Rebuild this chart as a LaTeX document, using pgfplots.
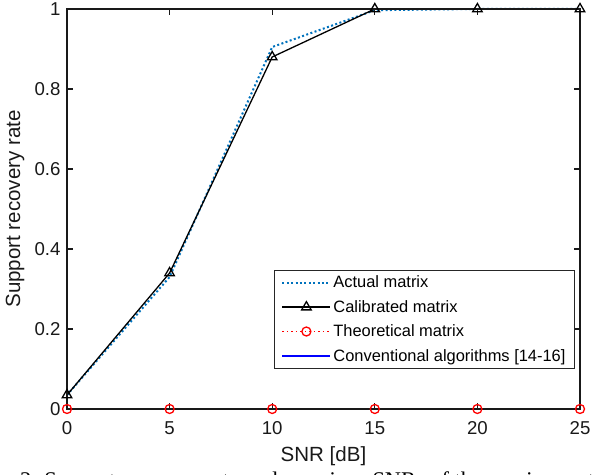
\documentclass[border=0pt]{standalone}
\usepackage{fontspec}
\setmainfont{Liberation Sans}
\newfontfamily\capfont{Liberation Serif}
\usepackage{pgfplots}
\pgfplotsset{compat=1.18}

\definecolor{mblue}{RGB}{0,114,189}

\begin{document}
\begin{tikzpicture}
\begin{axis}[
  scale only axis,
  width=513bp, height=400bp,
  xmin=0, xmax=25, ymin=0, ymax=1,
  xtick={0,5,10,15,20,25},
  ytick={0,0.2,0.4,0.6,0.8,1},
  /pgf/number format/assume math mode=true,
  tick label style={font=\fontsize{18.7}{20}\selectfont, color=black!90},
  xticklabel style={yshift=-9bp},
  yticklabel style={xshift=-3bp},
  tick align=inside,
  major tick length=6bp,
  axis line style={line width=1.4bp, black!90},
  every tick/.style={line width=1.2bp, black!90},
  axis on top,
  clip=false,
  xlabel={SNR [dB]},
  ylabel={Support recovery rate},
  label style={font=\fontsize{20.6}{22}\selectfont, color=black!90},
  xlabel style={at={(rel axis cs:0.5,0)}, anchor=center, yshift=-47bp},
  ylabel style={at={(rel axis cs:0,0.5)}, anchor=center, yshift=52bp},
  legend cell align=left,
  legend style={
    at={(0.99,0.1)}, anchor=south east,
    font=\fontsize{16.5}{18}\selectfont,
    draw=black!85, line width=0.8bp,
    inner xsep=7bp, inner ysep=4bp,
    row sep=7bp,
  },
  legend image code/.code={
    \draw[mark repeat=2, mark phase=2]
      plot coordinates {(0bp,0bp) (24bp,0bp) (48bp,0bp)};
  },
]
\addplot[mblue, line width=2bp, dash pattern=on 2bp off 2.4bp]
  coordinates {(0,0.035) (5,0.33) (10,0.905) (15,0.997) (20,1) (25,1)};
\addlegendentry{Actual matrix}

\addplot[black, line width=1.3bp, mark=triangle, mark size=5.5bp,
  mark options={solid, line width=1.3bp}]
  coordinates {(0,0.035) (5,0.34) (10,0.88) (15,1) (20,1) (25,1)};
\addlegendentry{Calibrated matrix}

\addplot[red, line width=1.2bp, dash pattern=on 1.5bp off 3bp, mark=o, mark size=4.5bp,
  mark options={solid, line width=1.3bp}]
  coordinates {(0,0) (5,0) (10,0) (15,0) (20,0) (25,0)};
\addlegendentry{Theoretical matrix}

\addplot[blue, line width=2bp]
  coordinates {(0,0) (5,0) (10,0) (15,0) (20,0) (25,0)};
\addlegendentry{Conventional algorithms [14-16]}
\end{axis}

% caption of the source figure, cut off at the bottom edge
\begin{scope}
\clip (-67bp,-66bp) rectangle (525bp,409bp);
\node[anchor=base west, inner sep=0pt] at (-47bp,-78bp)
  {\capfont\fontsize{22.5}{24}\selectfont 2. Support recovery rate under various SNRs of the sensing matrix};
\end{scope}
\pgfresetboundingbox
\useasboundingbox (-67bp,-66bp) rectangle (525bp,409bp);
\end{tikzpicture}
\end{document}
